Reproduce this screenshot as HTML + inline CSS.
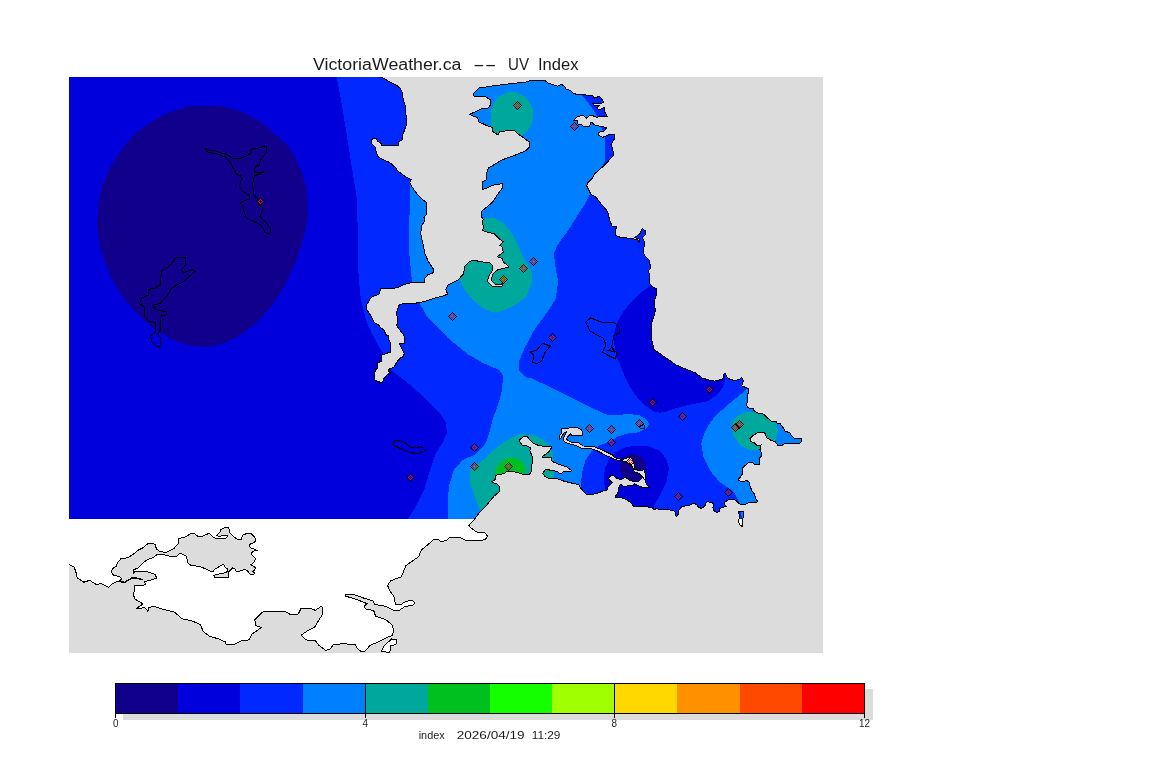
<!DOCTYPE html>
<html><head><meta charset="utf-8"><title>VictoriaWeather.ca -- UV Index</title>
<style>html,body{margin:0;padding:0;background:#fff}svg{display:block}text{font-family:"Liberation Sans",sans-serif}</style></head><body>
<svg width="1152" height="768" viewBox="0 0 1152 768">
<defs><clipPath id="land"><path d="M69.0,77.0 L380.0,77.0 L383.0,78.0 L390.0,82.0 L396.0,85.0 L400.0,88.0 L402.0,92.0 L403.0,98.0 L405.0,105.0 L406.0,115.0 L406.0,126.0 L402.8,135.0 L402.6,139.8 L398.0,142.0 L398.0,145.5 L381.8,145.5 L380.9,143.3 L377.5,141.1 L376.6,138.7 L373.1,138.5 L371.3,139.8 L371.3,143.3 L375.3,147.2 L376.6,153.3 L378.3,157.2 L382.7,159.4 L389.7,162.5 L396.2,168.2 L397.5,170.8 L407.1,177.8 L411.5,179.5 L409.7,182.6 L412.4,187.4 L416.7,193.5 L423.3,200.0 L426.8,202.8 L426.5,214.0 L424.0,217.6 L425.0,220.0 L421.6,226.0 L420.7,234.0 L423.3,245.3 L425.0,254.0 L428.5,261.8 L433.7,269.6 L432.9,273.0 L427.7,274.9 L425.0,278.3 L424.2,282.7 L411.0,282.7 L404.2,284.4 L397.3,287.9 L380.8,288.8 L379.0,294.0 L371.2,297.4 L366.9,304.4 L366.9,309.6 L371.2,316.5 L373.0,320.0 L373.3,320.0 L374.6,323.0 L378.1,324.4 L381.2,328.3 L383.8,329.6 L386.0,334.8 L388.6,335.7 L388.6,338.8 L390.8,343.6 L390.8,351.9 L382.0,354.9 L381.6,361.0 L377.7,362.8 L377.7,367.6 L375.1,370.6 L374.6,379.8 L379.4,382.0 L382.5,382.0 L383.8,378.5 L389.0,372.8 L391.6,372.4 L388.6,371.5 L389.0,369.3 L394.3,366.7 L396.9,361.9 L400.4,358.0 L403.4,356.6 L404.3,353.6 L399.5,344.0 L399.9,343.1 L404.3,343.1 L404.3,336.1 L396.4,325.2 L397.8,323.5 L397.8,320.0 L396.4,313.0 L399.0,305.2 L403.4,303.5 L411.0,304.0 L423.3,301.8 L433.8,298.3 L444.0,295.7 L447.6,294.0 L445.9,289.6 L447.6,285.3 L458.0,280.0 L463.3,274.0 L465.0,266.2 L469.3,261.8 L473.7,260.0 L480.6,261.8 L490.0,262.7 L492.8,266.2 L491.9,271.4 L488.4,276.6 L487.6,281.8 L492.8,286.7 L502.3,286.0 L503.2,283.9 L495.4,284.4 L491.0,280.0 L492.8,274.0 L498.0,269.6 L509.3,267.0 L503.2,261.8 L502.3,258.4 L497.1,256.6 L503.2,252.3 L502.3,247.0 L499.7,245.3 L503.2,241.9 L498.9,238.4 L494.5,234.0 L482.4,230.6 L484.0,227.0 L482.0,222.8 L483.2,219.3 L481.5,216.7 L481.5,211.5 L487.6,206.3 L492.8,202.0 L497.1,195.0 L502.5,188.0 L502.5,183.7 L494.7,184.6 L482.0,190.0 L482.6,182.0 L486.0,180.0 L486.0,174.0 L488.6,168.0 L501.7,160.0 L515.5,155.0 L526.0,150.7 L529.4,147.0 L529.4,142.0 L517.3,133.4 L513.8,130.0 L500.0,131.6 L498.0,135.0 L493.0,131.6 L492.0,127.3 L487.8,126.0 L479.0,122.0 L477.4,117.7 L473.0,116.0 L469.5,114.3 L477.0,111.0 L482.5,108.5 L488.6,108.0 L491.0,104.0 L490.0,99.5 L484.0,96.0 L474.0,96.0 L473.0,94.0 L479.0,88.0 L495.0,85.6 L512.0,83.5 L526.0,82.0 L532.0,80.0 L540.0,80.4 L545.2,80.7 L548.7,83.3 L557.5,86.3 L561.4,84.2 L564.0,85.9 L566.2,89.0 L570.5,90.7 L573.6,93.8 L581.0,94.6 L592.4,95.5 L594.5,98.1 L599.3,96.4 L601.5,98.6 L603.7,102.1 L601.1,103.4 L592.4,103.4 L594.1,105.1 L600.2,105.1 L596.7,107.7 L599.3,109.9 L604.6,107.3 L605.0,112.5 L607.6,116.9 L601.1,116.4 L596.7,117.3 L592.4,115.6 L589.7,115.6 L586.7,118.2 L583.2,115.6 L577.5,116.4 L573.6,120.4 L577.5,120.4 L578.0,124.3 L581.0,124.3 L582.8,126.0 L589.7,126.0 L590.6,122.6 L592.4,122.6 L594.1,124.7 L601.1,126.5 L606.8,127.4 L603.7,131.7 L598.0,132.2 L598.5,135.2 L602.8,137.4 L608.1,134.8 L614.2,134.8 L614.5,138.6 L611.0,144.6 L612.8,149.0 L613.6,155.0 L609.3,160.0 L602.4,167.0 L594.5,174.0 L592.8,177.6 L587.6,183.0 L586.7,186.0 L590.0,192.4 L592.0,195.0 L596.4,197.6 L601.6,204.5 L607.7,211.5 L609.4,219.3 L612.0,226.2 L617.2,227.0 L615.0,229.7 L615.0,235.0 L620.7,237.5 L631.0,238.4 L638.0,239.8 L639.8,242.7 L639.8,239.3 L634.6,237.5 L639.8,234.0 L642.4,228.3 L645.9,231.5 L645.0,235.0 L642.4,237.5 L645.0,243.6 L643.6,248.8 L644.1,254.9 L649.3,260.1 L650.6,268.0 L648.8,270.5 L649.9,283.5 L652.0,286.7 L656.8,288.8 L656.3,295.7 L654.0,300.9 L655.4,310.4 L653.7,317.4 L651.0,324.3 L652.0,331.2 L651.0,338.2 L652.8,343.4 L653.7,349.5 L658.9,353.0 L667.6,359.0 L676.2,365.0 L686.7,369.4 L695.3,372.9 L702.3,378.0 L711.0,380.7 L715.0,381.1 L722.9,379.0 L723.7,374.2 L725.0,373.3 L728.1,378.5 L733.3,380.3 L739.4,379.8 L741.6,377.2 L743.4,381.1 L741.6,385.9 L748.6,388.6 L748.6,392.5 L747.7,393.8 L748.0,401.6 L746.0,404.3 L747.7,407.8 L753.0,408.6 L754.3,411.2 L757.8,413.0 L762.6,413.4 L767.4,417.8 L771.3,421.3 L776.1,421.7 L777.4,423.9 L780.0,423.5 L783.9,428.8 L784.8,430.9 L790.0,433.1 L792.2,436.6 L794.4,438.4 L801.4,438.6 L801.6,441.4 L799.2,443.6 L789.2,443.6 L784.8,443.4 L781.3,445.8 L777.8,445.3 L775.2,441.8 L770.8,440.1 L766.9,437.9 L764.7,432.9 L757.8,432.7 L753.4,435.3 L749.9,438.4 L750.8,441.8 L754.3,442.7 L757.3,445.8 L760.4,445.8 L761.2,444.5 L760.4,447.5 L759.9,450.1 L761.7,452.8 L761.2,456.2 L759.9,457.6 L759.5,464.1 L754.3,464.1 L752.5,462.8 L748.6,462.4 L742.9,467.6 L742.5,473.7 L740.3,477.0 L738.0,479.8 L739.3,480.7 L741.6,481.9 L746.1,480.7 L748.9,481.3 L750.0,485.8 L751.7,490.3 L754.6,494.3 L756.2,499.9 L757.9,501.6 L755.1,502.7 L748.4,502.7 L743.8,505.0 L739.3,503.9 L736.5,501.0 L733.7,499.3 L728.0,499.9 L724.1,502.7 L724.1,504.4 L726.3,506.1 L723.5,507.2 L719.6,508.4 L719.0,511.8 L716.8,512.3 L713.9,510.6 L712.8,507.2 L713.9,504.4 L712.2,502.7 L707.7,501.6 L705.5,503.3 L704.9,506.1 L701.5,508.4 L698.7,507.2 L696.4,504.4 L694.2,503.3 L689.7,505.0 L681.8,506.7 L678.9,510.1 L678.9,513.5 L676.7,516.3 L675.6,515.7 L676.1,512.9 L673.9,510.6 L667.1,509.5 L655.8,508.9 L653.5,509.8 L652.2,507.6 L643.0,506.2 L633.8,506.2 L630.5,502.5 L626.0,499.2 L620.3,497.5 L614.8,497.0 L617.6,493.6 L618.5,490.0 L619.2,485.8 L620.6,484.4 L623.3,486.2 L631.7,485.8 L634.4,484.0 L642.8,487.6 L649.7,488.0 L646.9,485.0 L644.9,479.6 L645.6,477.5 L644.9,472.6 L644.0,469.2 L642.8,470.2 L634.4,469.9 L634.4,465.7 L633.4,460.8 L630.3,457.4 L624.2,458.6 L622.4,459.9 L618.1,458.5 L614.6,457.8 L612.8,455.1 L607.6,452.5 L604.1,450.8 L598.9,448.6 L592.8,446.2 L583.2,446.0 L577.9,442.5 L570.9,442.0 L567.5,440.3 L566.6,439.0 L567.9,436.8 L570.5,433.8 L571.8,435.5 L582.3,435.5 L582.7,432.9 L581.4,429.8 L577.9,427.9 L561.3,428.1 L561.8,432.5 L559.6,435.9 L559.4,439.4 L561.3,437.7 L563.5,433.5 L566.6,431.6 L564.5,436.0 L563.1,438.6 L563.1,440.3 L564.8,442.0 L570.1,444.2 L576.2,445.5 L582.3,448.6 L591.9,449.0 L597.1,450.8 L602.4,453.4 L605.8,455.6 L611.1,457.3 L614.6,459.5 L619.8,460.8 L622.4,460.8 L626.1,462.2 L628.9,463.3 L631.7,465.0 L633.0,467.8 L633.0,469.2 L634.4,472.0 L638.6,473.3 L644.0,478.3 L642.0,477.8 L638.6,481.3 L634.4,481.7 L628.9,479.9 L625.4,477.2 L622.0,479.2 L617.8,478.9 L612.2,474.7 L608.0,478.2 L612.0,482.5 L607.4,488.0 L607.0,490.0 L603.6,490.8 L596.7,493.6 L588.3,495.0 L585.5,493.6 L581.0,488.5 L578.8,484.5 L572.3,483.2 L563.5,481.0 L557.4,478.9 L550.4,478.9 L545.2,476.7 L542.6,473.6 L545.2,469.7 L547.8,469.7 L557.4,471.4 L560.0,474.1 L563.5,471.9 L568.8,471.9 L571.8,470.6 L567.0,467.1 L559.2,464.5 L552.2,461.4 L551.3,457.9 L541.7,457.0 L548.7,451.8 L552.2,447.0 L539.1,445.7 L533.0,443.1 L530.4,440.5 L527.3,436.8 L523.4,436.8 L519.9,439.6 L519.9,442.2 L522.5,445.3 L527.8,446.1 L530.4,447.9 L529.9,450.9 L532.1,456.2 L532.6,462.3 L531.2,466.6 L531.7,471.0 L529.5,474.1 L522.5,474.1 L514.7,471.9 L505.9,471.9 L504.2,473.6 L495.0,475.4 L495.5,479.3 L491.5,481.9 L497.2,484.1 L499.4,486.3 L499.0,492.0 L493.8,496.4 L486.8,505.0 L479.9,512.0 L474.7,519.0 L468.6,525.9 L476.4,532.0 L485.0,532.8 L487.7,536.3 L485.0,539.8 L476.4,540.7 L466.0,540.7 L460.8,538.0 L450.3,537.2 L446.0,540.7 L440.5,541.5 L438.6,539.6 L433.8,539.6 L428.1,544.4 L421.4,550.1 L418.5,556.8 L406.1,565.4 L401.3,576.8 L390.8,580.7 L387.6,585.4 L389.9,591.2 L393.7,595.9 L395.6,604.5 L401.3,604.5 L405.1,601.7 L411.8,600.1 L414.7,602.6 L412.8,605.5 L405.1,606.4 L399.4,610.3 L393.7,610.3 L386.0,606.4 L374.6,604.5 L372.7,600.7 L363.1,597.9 L353.6,594.4 L345.0,594.4 L345.0,595.9 L357.4,599.8 L367.0,603.6 L364.1,606.4 L366.0,609.3 L373.6,610.3 L375.5,616.0 L386.0,619.8 L391.8,624.6 L393.7,629.4 L392.7,635.1 L386.0,638.0 L378.4,641.8 L369.8,645.6 L365.0,651.3 L361.2,651.7 L357.4,648.5 L355.5,644.6 L343.1,643.7 L333.5,644.6 L329.7,649.4 L325.9,650.4 L319.2,645.6 L315.4,640.8 L305.8,639.9 L301.1,635.1 L306.8,631.3 L315.4,626.5 L317.3,622.7 L322.1,615.0 L322.6,607.4 L321.1,606.4 L315.4,610.3 L311.6,608.9 L301.1,608.4 L298.2,614.1 L289.6,614.1 L284.8,611.2 L265.7,611.2 L262.4,612.2 L254.8,619.8 L255.8,625.5 L261.5,627.5 L251.9,634.1 L249.1,639.9 L241.4,640.8 L233.8,644.6 L226.2,644.6 L225.2,641.8 L218.5,638.9 L209.0,636.0 L203.2,631.3 L200.4,624.6 L191.8,620.8 L182.2,618.9 L174.6,612.2 L163.1,609.3 L153.6,606.4 L148.8,607.4 L147.9,611.2 L145.0,607.8 L136.4,608.4 L143.0,604.0 L134.5,598.8 L133.5,594.0 L134.5,590.2 L134.5,585.7 L143.6,585.4 L145.4,584.5 L144.5,581.5 L152.4,579.7 L156.7,578.0 L155.0,574.5 L146.2,571.2 L134.9,571.4 L133.6,573.2 L133.6,569.7 L138.4,568.0 L141.9,564.0 L147.1,559.7 L153.2,557.5 L157.2,554.4 L164.6,554.9 L169.8,556.2 L176.8,556.2 L180.3,553.1 L186.4,556.2 L188.1,563.2 L191.8,565.8 L199.4,566.2 L206.3,569.3 L211.6,571.5 L213.3,571.5 L214.6,569.3 L222.5,564.5 L224.7,565.4 L225.1,567.6 L227.3,568.4 L227.7,571.5 L224.7,572.8 L213.3,575.4 L215.1,577.6 L228.6,577.6 L228.6,571.9 L232.5,568.0 L234.7,568.4 L236.0,571.0 L240.4,571.0 L244.7,569.3 L247.4,570.6 L250.0,574.1 L253.5,574.5 L254.8,572.8 L252.6,571.5 L254.3,570.6 L255.6,567.6 L250.8,564.9 L254.3,561.9 L255.6,558.4 L251.3,554.0 L252.6,551.2 L257.7,550.5 L250.8,547.9 L249.1,546.2 L250.4,543.6 L254.3,542.7 L255.6,540.5 L254.8,537.5 L250.8,533.5 L246.5,533.5 L242.6,535.3 L241.2,539.2 L237.3,539.2 L233.4,536.6 L229.9,533.1 L228.6,527.4 L225.1,527.4 L220.7,529.6 L220.3,531.8 L216.4,535.5 L218.6,536.1 L227.7,535.7 L226.0,538.3 L216.8,538.5 L213.3,537.5 L209.4,533.1 L202.9,536.1 L197.6,536.1 L195.0,534.0 L190.8,533.5 L186.4,536.5 L178.5,538.7 L178.5,543.1 L174.2,548.3 L166.3,552.2 L160.2,551.8 L156.3,548.8 L155.4,544.4 L152.4,543.3 L148.0,543.5 L142.8,547.9 L137.5,550.5 L133.2,554.4 L127.1,557.9 L120.9,558.8 L117.5,562.7 L116.1,566.6 L112.7,568.4 L111.3,571.9 L113.1,574.9 L120.5,577.1 L121.4,579.3 L119.2,581.0 L113.1,583.2 L108.7,587.3 L101.0,583.5 L96.3,584.5 L89.6,580.3 L83.9,582.2 L77.2,577.8 L76.2,573.0 L74.3,567.3 L69.0,564.4 Z M738.2,511.2 L743.3,511.8 L743.6,515.1 L742.7,519.7 L742.1,526.4 L739.3,524.2 L738.2,520.8 L739.9,516.3 Z M381.3,651.7 L384.1,645.6 L391.8,638.9 L396.6,639.9 L396.0,644.6 L390.8,645.6 L389.9,652.3 Z"/></clipPath><clipPath id="data"><rect x="69" y="77" width="754" height="442"/></clipPath>
<g id="mk"><rect x="-4" y="0" width="1" height="1" fill="#000"/><rect x="-3" y="1" width="1" height="1" fill="#000"/><rect x="-3" y="-1" width="1" height="1" fill="#000"/><rect x="-2" y="2" width="1" height="1" fill="#000"/><rect x="-2" y="-2" width="1" height="1" fill="#000"/><rect x="-1" y="3" width="1" height="1" fill="#000"/><rect x="-1" y="-3" width="1" height="1" fill="#000"/><rect x="0" y="4" width="1" height="1" fill="#000"/><rect x="0" y="-4" width="1" height="1" fill="#000"/><rect x="1" y="3" width="1" height="1" fill="#000"/><rect x="1" y="-3" width="1" height="1" fill="#000"/><rect x="2" y="2" width="1" height="1" fill="#000"/><rect x="2" y="-2" width="1" height="1" fill="#000"/><rect x="3" y="1" width="1" height="1" fill="#000"/><rect x="3" y="-1" width="1" height="1" fill="#000"/><rect x="4" y="0" width="1" height="1" fill="#000"/><rect x="-2" y="0" width="1" height="1" fill="#ff0000"/><rect x="-1" y="1" width="1" height="1" fill="#ff0000"/><rect x="-1" y="-1" width="1" height="1" fill="#ff0000"/><rect x="0" y="2" width="1" height="1" fill="#ff0000"/><rect x="0" y="-2" width="1" height="1" fill="#ff0000"/><rect x="1" y="1" width="1" height="1" fill="#ff0000"/><rect x="1" y="-1" width="1" height="1" fill="#ff0000"/><rect x="2" y="0" width="1" height="1" fill="#ff0000"/></g></defs>
<rect x="0" y="0" width="1152" height="768" fill="#fff"/>
<g shape-rendering="crispEdges">
<rect x="69" y="77" width="754" height="576" fill="#dcdcdc"/>
<path d="M69.0,77.0 L380.0,77.0 L383.0,78.0 L390.0,82.0 L396.0,85.0 L400.0,88.0 L402.0,92.0 L403.0,98.0 L405.0,105.0 L406.0,115.0 L406.0,126.0 L402.8,135.0 L402.6,139.8 L398.0,142.0 L398.0,145.5 L381.8,145.5 L380.9,143.3 L377.5,141.1 L376.6,138.7 L373.1,138.5 L371.3,139.8 L371.3,143.3 L375.3,147.2 L376.6,153.3 L378.3,157.2 L382.7,159.4 L389.7,162.5 L396.2,168.2 L397.5,170.8 L407.1,177.8 L411.5,179.5 L409.7,182.6 L412.4,187.4 L416.7,193.5 L423.3,200.0 L426.8,202.8 L426.5,214.0 L424.0,217.6 L425.0,220.0 L421.6,226.0 L420.7,234.0 L423.3,245.3 L425.0,254.0 L428.5,261.8 L433.7,269.6 L432.9,273.0 L427.7,274.9 L425.0,278.3 L424.2,282.7 L411.0,282.7 L404.2,284.4 L397.3,287.9 L380.8,288.8 L379.0,294.0 L371.2,297.4 L366.9,304.4 L366.9,309.6 L371.2,316.5 L373.0,320.0 L373.3,320.0 L374.6,323.0 L378.1,324.4 L381.2,328.3 L383.8,329.6 L386.0,334.8 L388.6,335.7 L388.6,338.8 L390.8,343.6 L390.8,351.9 L382.0,354.9 L381.6,361.0 L377.7,362.8 L377.7,367.6 L375.1,370.6 L374.6,379.8 L379.4,382.0 L382.5,382.0 L383.8,378.5 L389.0,372.8 L391.6,372.4 L388.6,371.5 L389.0,369.3 L394.3,366.7 L396.9,361.9 L400.4,358.0 L403.4,356.6 L404.3,353.6 L399.5,344.0 L399.9,343.1 L404.3,343.1 L404.3,336.1 L396.4,325.2 L397.8,323.5 L397.8,320.0 L396.4,313.0 L399.0,305.2 L403.4,303.5 L411.0,304.0 L423.3,301.8 L433.8,298.3 L444.0,295.7 L447.6,294.0 L445.9,289.6 L447.6,285.3 L458.0,280.0 L463.3,274.0 L465.0,266.2 L469.3,261.8 L473.7,260.0 L480.6,261.8 L490.0,262.7 L492.8,266.2 L491.9,271.4 L488.4,276.6 L487.6,281.8 L492.8,286.7 L502.3,286.0 L503.2,283.9 L495.4,284.4 L491.0,280.0 L492.8,274.0 L498.0,269.6 L509.3,267.0 L503.2,261.8 L502.3,258.4 L497.1,256.6 L503.2,252.3 L502.3,247.0 L499.7,245.3 L503.2,241.9 L498.9,238.4 L494.5,234.0 L482.4,230.6 L484.0,227.0 L482.0,222.8 L483.2,219.3 L481.5,216.7 L481.5,211.5 L487.6,206.3 L492.8,202.0 L497.1,195.0 L502.5,188.0 L502.5,183.7 L494.7,184.6 L482.0,190.0 L482.6,182.0 L486.0,180.0 L486.0,174.0 L488.6,168.0 L501.7,160.0 L515.5,155.0 L526.0,150.7 L529.4,147.0 L529.4,142.0 L517.3,133.4 L513.8,130.0 L500.0,131.6 L498.0,135.0 L493.0,131.6 L492.0,127.3 L487.8,126.0 L479.0,122.0 L477.4,117.7 L473.0,116.0 L469.5,114.3 L477.0,111.0 L482.5,108.5 L488.6,108.0 L491.0,104.0 L490.0,99.5 L484.0,96.0 L474.0,96.0 L473.0,94.0 L479.0,88.0 L495.0,85.6 L512.0,83.5 L526.0,82.0 L532.0,80.0 L540.0,80.4 L545.2,80.7 L548.7,83.3 L557.5,86.3 L561.4,84.2 L564.0,85.9 L566.2,89.0 L570.5,90.7 L573.6,93.8 L581.0,94.6 L592.4,95.5 L594.5,98.1 L599.3,96.4 L601.5,98.6 L603.7,102.1 L601.1,103.4 L592.4,103.4 L594.1,105.1 L600.2,105.1 L596.7,107.7 L599.3,109.9 L604.6,107.3 L605.0,112.5 L607.6,116.9 L601.1,116.4 L596.7,117.3 L592.4,115.6 L589.7,115.6 L586.7,118.2 L583.2,115.6 L577.5,116.4 L573.6,120.4 L577.5,120.4 L578.0,124.3 L581.0,124.3 L582.8,126.0 L589.7,126.0 L590.6,122.6 L592.4,122.6 L594.1,124.7 L601.1,126.5 L606.8,127.4 L603.7,131.7 L598.0,132.2 L598.5,135.2 L602.8,137.4 L608.1,134.8 L614.2,134.8 L614.5,138.6 L611.0,144.6 L612.8,149.0 L613.6,155.0 L609.3,160.0 L602.4,167.0 L594.5,174.0 L592.8,177.6 L587.6,183.0 L586.7,186.0 L590.0,192.4 L592.0,195.0 L596.4,197.6 L601.6,204.5 L607.7,211.5 L609.4,219.3 L612.0,226.2 L617.2,227.0 L615.0,229.7 L615.0,235.0 L620.7,237.5 L631.0,238.4 L638.0,239.8 L639.8,242.7 L639.8,239.3 L634.6,237.5 L639.8,234.0 L642.4,228.3 L645.9,231.5 L645.0,235.0 L642.4,237.5 L645.0,243.6 L643.6,248.8 L644.1,254.9 L649.3,260.1 L650.6,268.0 L648.8,270.5 L649.9,283.5 L652.0,286.7 L656.8,288.8 L656.3,295.7 L654.0,300.9 L655.4,310.4 L653.7,317.4 L651.0,324.3 L652.0,331.2 L651.0,338.2 L652.8,343.4 L653.7,349.5 L658.9,353.0 L667.6,359.0 L676.2,365.0 L686.7,369.4 L695.3,372.9 L702.3,378.0 L711.0,380.7 L715.0,381.1 L722.9,379.0 L723.7,374.2 L725.0,373.3 L728.1,378.5 L733.3,380.3 L739.4,379.8 L741.6,377.2 L743.4,381.1 L741.6,385.9 L748.6,388.6 L748.6,392.5 L747.7,393.8 L748.0,401.6 L746.0,404.3 L747.7,407.8 L753.0,408.6 L754.3,411.2 L757.8,413.0 L762.6,413.4 L767.4,417.8 L771.3,421.3 L776.1,421.7 L777.4,423.9 L780.0,423.5 L783.9,428.8 L784.8,430.9 L790.0,433.1 L792.2,436.6 L794.4,438.4 L801.4,438.6 L801.6,441.4 L799.2,443.6 L789.2,443.6 L784.8,443.4 L781.3,445.8 L777.8,445.3 L775.2,441.8 L770.8,440.1 L766.9,437.9 L764.7,432.9 L757.8,432.7 L753.4,435.3 L749.9,438.4 L750.8,441.8 L754.3,442.7 L757.3,445.8 L760.4,445.8 L761.2,444.5 L760.4,447.5 L759.9,450.1 L761.7,452.8 L761.2,456.2 L759.9,457.6 L759.5,464.1 L754.3,464.1 L752.5,462.8 L748.6,462.4 L742.9,467.6 L742.5,473.7 L740.3,477.0 L738.0,479.8 L739.3,480.7 L741.6,481.9 L746.1,480.7 L748.9,481.3 L750.0,485.8 L751.7,490.3 L754.6,494.3 L756.2,499.9 L757.9,501.6 L755.1,502.7 L748.4,502.7 L743.8,505.0 L739.3,503.9 L736.5,501.0 L733.7,499.3 L728.0,499.9 L724.1,502.7 L724.1,504.4 L726.3,506.1 L723.5,507.2 L719.6,508.4 L719.0,511.8 L716.8,512.3 L713.9,510.6 L712.8,507.2 L713.9,504.4 L712.2,502.7 L707.7,501.6 L705.5,503.3 L704.9,506.1 L701.5,508.4 L698.7,507.2 L696.4,504.4 L694.2,503.3 L689.7,505.0 L681.8,506.7 L678.9,510.1 L678.9,513.5 L676.7,516.3 L675.6,515.7 L676.1,512.9 L673.9,510.6 L667.1,509.5 L655.8,508.9 L653.5,509.8 L652.2,507.6 L643.0,506.2 L633.8,506.2 L630.5,502.5 L626.0,499.2 L620.3,497.5 L614.8,497.0 L617.6,493.6 L618.5,490.0 L619.2,485.8 L620.6,484.4 L623.3,486.2 L631.7,485.8 L634.4,484.0 L642.8,487.6 L649.7,488.0 L646.9,485.0 L644.9,479.6 L645.6,477.5 L644.9,472.6 L644.0,469.2 L642.8,470.2 L634.4,469.9 L634.4,465.7 L633.4,460.8 L630.3,457.4 L624.2,458.6 L622.4,459.9 L618.1,458.5 L614.6,457.8 L612.8,455.1 L607.6,452.5 L604.1,450.8 L598.9,448.6 L592.8,446.2 L583.2,446.0 L577.9,442.5 L570.9,442.0 L567.5,440.3 L566.6,439.0 L567.9,436.8 L570.5,433.8 L571.8,435.5 L582.3,435.5 L582.7,432.9 L581.4,429.8 L577.9,427.9 L561.3,428.1 L561.8,432.5 L559.6,435.9 L559.4,439.4 L561.3,437.7 L563.5,433.5 L566.6,431.6 L564.5,436.0 L563.1,438.6 L563.1,440.3 L564.8,442.0 L570.1,444.2 L576.2,445.5 L582.3,448.6 L591.9,449.0 L597.1,450.8 L602.4,453.4 L605.8,455.6 L611.1,457.3 L614.6,459.5 L619.8,460.8 L622.4,460.8 L626.1,462.2 L628.9,463.3 L631.7,465.0 L633.0,467.8 L633.0,469.2 L634.4,472.0 L638.6,473.3 L644.0,478.3 L642.0,477.8 L638.6,481.3 L634.4,481.7 L628.9,479.9 L625.4,477.2 L622.0,479.2 L617.8,478.9 L612.2,474.7 L608.0,478.2 L612.0,482.5 L607.4,488.0 L607.0,490.0 L603.6,490.8 L596.7,493.6 L588.3,495.0 L585.5,493.6 L581.0,488.5 L578.8,484.5 L572.3,483.2 L563.5,481.0 L557.4,478.9 L550.4,478.9 L545.2,476.7 L542.6,473.6 L545.2,469.7 L547.8,469.7 L557.4,471.4 L560.0,474.1 L563.5,471.9 L568.8,471.9 L571.8,470.6 L567.0,467.1 L559.2,464.5 L552.2,461.4 L551.3,457.9 L541.7,457.0 L548.7,451.8 L552.2,447.0 L539.1,445.7 L533.0,443.1 L530.4,440.5 L527.3,436.8 L523.4,436.8 L519.9,439.6 L519.9,442.2 L522.5,445.3 L527.8,446.1 L530.4,447.9 L529.9,450.9 L532.1,456.2 L532.6,462.3 L531.2,466.6 L531.7,471.0 L529.5,474.1 L522.5,474.1 L514.7,471.9 L505.9,471.9 L504.2,473.6 L495.0,475.4 L495.5,479.3 L491.5,481.9 L497.2,484.1 L499.4,486.3 L499.0,492.0 L493.8,496.4 L486.8,505.0 L479.9,512.0 L474.7,519.0 L468.6,525.9 L476.4,532.0 L485.0,532.8 L487.7,536.3 L485.0,539.8 L476.4,540.7 L466.0,540.7 L460.8,538.0 L450.3,537.2 L446.0,540.7 L440.5,541.5 L438.6,539.6 L433.8,539.6 L428.1,544.4 L421.4,550.1 L418.5,556.8 L406.1,565.4 L401.3,576.8 L390.8,580.7 L387.6,585.4 L389.9,591.2 L393.7,595.9 L395.6,604.5 L401.3,604.5 L405.1,601.7 L411.8,600.1 L414.7,602.6 L412.8,605.5 L405.1,606.4 L399.4,610.3 L393.7,610.3 L386.0,606.4 L374.6,604.5 L372.7,600.7 L363.1,597.9 L353.6,594.4 L345.0,594.4 L345.0,595.9 L357.4,599.8 L367.0,603.6 L364.1,606.4 L366.0,609.3 L373.6,610.3 L375.5,616.0 L386.0,619.8 L391.8,624.6 L393.7,629.4 L392.7,635.1 L386.0,638.0 L378.4,641.8 L369.8,645.6 L365.0,651.3 L361.2,651.7 L357.4,648.5 L355.5,644.6 L343.1,643.7 L333.5,644.6 L329.7,649.4 L325.9,650.4 L319.2,645.6 L315.4,640.8 L305.8,639.9 L301.1,635.1 L306.8,631.3 L315.4,626.5 L317.3,622.7 L322.1,615.0 L322.6,607.4 L321.1,606.4 L315.4,610.3 L311.6,608.9 L301.1,608.4 L298.2,614.1 L289.6,614.1 L284.8,611.2 L265.7,611.2 L262.4,612.2 L254.8,619.8 L255.8,625.5 L261.5,627.5 L251.9,634.1 L249.1,639.9 L241.4,640.8 L233.8,644.6 L226.2,644.6 L225.2,641.8 L218.5,638.9 L209.0,636.0 L203.2,631.3 L200.4,624.6 L191.8,620.8 L182.2,618.9 L174.6,612.2 L163.1,609.3 L153.6,606.4 L148.8,607.4 L147.9,611.2 L145.0,607.8 L136.4,608.4 L143.0,604.0 L134.5,598.8 L133.5,594.0 L134.5,590.2 L134.5,585.7 L143.6,585.4 L145.4,584.5 L144.5,581.5 L152.4,579.7 L156.7,578.0 L155.0,574.5 L146.2,571.2 L134.9,571.4 L133.6,573.2 L133.6,569.7 L138.4,568.0 L141.9,564.0 L147.1,559.7 L153.2,557.5 L157.2,554.4 L164.6,554.9 L169.8,556.2 L176.8,556.2 L180.3,553.1 L186.4,556.2 L188.1,563.2 L191.8,565.8 L199.4,566.2 L206.3,569.3 L211.6,571.5 L213.3,571.5 L214.6,569.3 L222.5,564.5 L224.7,565.4 L225.1,567.6 L227.3,568.4 L227.7,571.5 L224.7,572.8 L213.3,575.4 L215.1,577.6 L228.6,577.6 L228.6,571.9 L232.5,568.0 L234.7,568.4 L236.0,571.0 L240.4,571.0 L244.7,569.3 L247.4,570.6 L250.0,574.1 L253.5,574.5 L254.8,572.8 L252.6,571.5 L254.3,570.6 L255.6,567.6 L250.8,564.9 L254.3,561.9 L255.6,558.4 L251.3,554.0 L252.6,551.2 L257.7,550.5 L250.8,547.9 L249.1,546.2 L250.4,543.6 L254.3,542.7 L255.6,540.5 L254.8,537.5 L250.8,533.5 L246.5,533.5 L242.6,535.3 L241.2,539.2 L237.3,539.2 L233.4,536.6 L229.9,533.1 L228.6,527.4 L225.1,527.4 L220.7,529.6 L220.3,531.8 L216.4,535.5 L218.6,536.1 L227.7,535.7 L226.0,538.3 L216.8,538.5 L213.3,537.5 L209.4,533.1 L202.9,536.1 L197.6,536.1 L195.0,534.0 L190.8,533.5 L186.4,536.5 L178.5,538.7 L178.5,543.1 L174.2,548.3 L166.3,552.2 L160.2,551.8 L156.3,548.8 L155.4,544.4 L152.4,543.3 L148.0,543.5 L142.8,547.9 L137.5,550.5 L133.2,554.4 L127.1,557.9 L120.9,558.8 L117.5,562.7 L116.1,566.6 L112.7,568.4 L111.3,571.9 L113.1,574.9 L120.5,577.1 L121.4,579.3 L119.2,581.0 L113.1,583.2 L108.7,587.3 L101.0,583.5 L96.3,584.5 L89.6,580.3 L83.9,582.2 L77.2,577.8 L76.2,573.0 L74.3,567.3 L69.0,564.4 Z M738.2,511.2 L743.3,511.8 L743.6,515.1 L742.7,519.7 L742.1,526.4 L739.3,524.2 L738.2,520.8 L739.9,516.3 Z M381.3,651.7 L384.1,645.6 L391.8,638.9 L396.6,639.9 L396.0,644.6 L390.8,645.6 L389.9,652.3 Z" fill="#fff"/>
<g clip-path="url(#land)"><g clip-path="url(#data)">
<rect x="69" y="77" width="754" height="442" fill="#0000dc"/>
<path d="M190.0,106.0 L221.5,106.0 L242.0,111.7 L260.0,121.2 L270.5,130.0 L287.0,144.6 L296.6,159.2 L302.7,175.0 L307.0,190.8 L307.6,207.8 L308.0,215.0 L304.4,234.8 L296.7,259.7 L285.3,284.5 L271.9,305.5 L256.6,322.7 L239.4,336.0 L224.1,343.7 L207.0,347.1 L189.8,345.6 L172.6,339.9 L155.4,330.3 L138.2,315.0 L124.8,299.8 L111.5,278.8 L100.0,248.2 L97.0,225.0 L98.2,203.0 L102.5,184.6 L110.3,167.2 L122.5,148.0 L136.4,132.5 L153.8,120.3 L171.0,111.7 Z" fill="#10008c"/>
<path d="M336.5,77.0 L341.0,100.0 L346.0,130.0 L351.5,165.0 L357.0,200.0 L357.8,235.0 L357.6,264.0 L360.8,299.0 L366.0,320.0 L371.2,332.0 L380.0,348.6 L383.0,354.0 L391.2,370.3 L409.4,384.2 L426.8,399.9 L439.0,412.0 L445.9,422.4 L446.8,432.8 L443.0,442.0 L436.0,453.0 L429.5,472.0 L424.3,489.4 L415.6,506.8 L407.8,519.0 L830.0,519.0 L830.0,77.0 Z" fill="#0028ff"/>
<path d="M410.2,181.0 L410.0,195.0 L409.6,212.0 L408.6,247.0 L411.2,273.0 L412.0,283.0 L440.0,283.0 L440.0,183.0 Z" fill="#0080ff"/>
<path d="M460.0,75.0 L460.0,270.0 L419.9,295.0 L419.9,303.5 L426.8,316.5 L431.0,320.0 L438.8,328.7 L447.5,337.5 L455.0,343.8 L468.5,354.5 L484.0,363.4 L499.7,370.3 L502.8,375.5 L502.3,389.4 L498.0,405.0 L492.8,419.0 L489.3,432.8 L485.8,443.0 L483.3,446.0 L474.7,454.7 L462.5,460.0 L453.8,470.3 L449.5,484.2 L447.7,498.0 L447.7,519.0 L580.6,519.0 L580.6,486.0 L581.3,479.7 L582.7,470.0 L585.5,460.2 L591.0,451.8 L599.4,445.5 L609.2,442.0 L617.6,436.5 L626.0,433.7 L638.5,432.3 L646.8,428.0 L649.3,424.0 L646.7,419.8 L639.8,415.5 L627.6,413.7 L617.0,415.5 L606.8,414.6 L596.4,410.0 L580.8,402.4 L563.4,393.8 L546.0,385.0 L530.4,378.0 L525.8,377.3 L518.8,370.3 L518.8,361.7 L524.0,349.5 L531.0,335.6 L535.6,328.0 L547.8,311.3 L555.6,299.2 L558.2,281.8 L555.6,268.0 L553.9,254.0 L557.3,245.3 L568.6,229.7 L577.3,215.8 L584.2,205.4 L589.4,195.0 L591.0,192.0 L630.0,192.0 L630.0,75.0 Z" fill="#0080ff"/>
<path d="M746.4,389.4 L741.2,393.8 L732.5,400.8 L723.7,408.6 L715.0,416.0 L709.0,424.5 L704.3,433.0 L701.3,443.3 L703.4,457.2 L710.3,471.0 L719.0,481.5 L729.4,488.5 L734.6,493.0 L739.8,503.3 L742.0,520.0 L815.0,520.0 L815.0,380.0 L750.0,384.0 Z" fill="#0080ff"/>
<path d="M580.5,93.0 L586.2,100.3 L591.5,107.3 L596.7,115.1 L598.0,118.0 L612.0,120.0 L612.0,90.0 Z" fill="#0028ff"/>
<path d="M600.5,125.5 L603.0,131.0 L610.0,131.0 L610.0,125.0 Z" fill="#0028ff"/>
<path d="M605.0,136.0 L605.0,160.3 L602.4,167.2 L622.0,167.0 L622.0,132.0 Z" fill="#0028ff"/>
<ellipse cx="512.0" cy="115.0" rx="21.3" ry="23.0" fill="#00a89c"/>
<path d="M490.8,117.0 L491.2,126.0 L493.0,134.0 L500.0,137.0 L506.0,130.0 L500.0,117.0 Z" fill="#00a89c"/>
<path d="M483.2,219.3 L487.0,217.5 L492.8,217.6 L503.2,222.8 L511.9,233.2 L518.8,247.0 L524.0,259.2 L531.0,269.6 L532.2,275.0 L531.8,281.8 L527.0,295.7 L520.0,301.8 L513.6,306.0 L501.5,311.3 L492.8,312.2 L482.4,307.8 L472.0,299.0 L465.0,290.5 L460.7,281.8 L459.8,279.2 L455.0,270.0 L470.0,250.0 L475.0,220.0 Z" fill="#00a89c"/>
<path d="M479.9,510.3 L474.7,496.4 L470.3,484.2 L470.3,469.5 L476.0,465.0 L481.0,461.5 L485.0,458.8 L493.7,450.1 L502.5,443.1 L511.2,437.9 L521.6,434.4 L533.9,434.8 L541.7,438.7 L547.8,444.8 L552.2,451.8 L553.9,460.5 L553.9,478.9 L554.0,520.0 L480.0,520.0 Z" fill="#00a89c"/>
<path d="M732.3,424.0 L733.3,420.8 L736.8,416.5 L743.8,412.6 L749.9,412.1 L756.0,412.3 L760.0,408.0 L775.0,417.0 L775.2,422.2 L777.0,425.7 L777.7,430.1 L777.0,435.3 L775.2,440.5 L774.5,444.0 L768.0,442.0 L763.0,438.0 L762.0,447.0 L759.9,448.4 L756.9,449.7 L751.6,450.6 L746.4,448.8 L741.2,445.8 L736.8,440.5 L733.3,435.3 L732.3,429.5 Z" fill="#00a89c"/>
<path d="M495.5,471.9 L497.2,466.6 L502.5,460.5 L509.4,457.9 L516.4,458.4 L521.6,461.4 L524.7,466.6 L525.0,472.8 L525.0,482.0 L495.0,482.0 Z" fill="#00c020"/>
<path d="M499.8,278.6 L503.5,274.8 L507.2,278.6 L503.5,281.8 Z" fill="#00c020"/>
<path d="M650.0,286.0 L641.5,292.2 L631.0,302.6 L624.0,310.4 L617.0,322.6 L614.6,331.2 L613.8,341.7 L617.0,357.3 L621.0,367.0 L625.5,378.0 L630.0,387.0 L634.7,394.0 L640.2,401.0 L647.2,407.3 L654.2,411.6 L660.0,412.6 L665.2,412.0 L673.8,408.9 L684.7,405.8 L696.4,403.4 L708.1,401.1 L715.9,395.6 L720.0,391.7 L722.5,387.8 L725.0,380.8 L725.0,370.0 L680.0,355.0 L662.0,340.0 L662.0,286.0 Z" fill="#0000dc"/>
<path d="M637.0,445.5 L626.0,447.0 L616.2,451.8 L609.2,458.8 L605.0,468.5 L603.6,478.3 L605.0,488.0 L607.0,492.2 L607.0,515.0 L653.0,515.0 L653.8,506.2 L660.8,493.6 L666.3,482.5 L669.0,468.5 L666.3,458.8 L659.4,450.4 L648.2,446.2 Z" fill="#0000dc"/>
<ellipse cx="633.0" cy="467.5" rx="13.2" ry="13.3" fill="#10008c"/>
</g></g>
<path d="M380.0,77.0 L383.0,78.0 L390.0,82.0 L396.0,85.0 L400.0,88.0 L402.0,92.0 L403.0,98.0 L405.0,105.0 L406.0,115.0 L406.0,126.0 L402.8,135.0 L402.6,139.8 L398.0,142.0 L398.0,145.5 L381.8,145.5 L380.9,143.3 L377.5,141.1 L376.6,138.7 L373.1,138.5 L371.3,139.8 L371.3,143.3 L375.3,147.2 L376.6,153.3 L378.3,157.2 L382.7,159.4 L389.7,162.5 L396.2,168.2 L397.5,170.8 L407.1,177.8 L411.5,179.5 L409.7,182.6 L412.4,187.4 L416.7,193.5 L423.3,200.0 L426.8,202.8 L426.5,214.0 L424.0,217.6 L425.0,220.0 L421.6,226.0 L420.7,234.0 L423.3,245.3 L425.0,254.0 L428.5,261.8 L433.7,269.6 L432.9,273.0 L427.7,274.9 L425.0,278.3 L424.2,282.7 L411.0,282.7 L404.2,284.4 L397.3,287.9 L380.8,288.8 L379.0,294.0 L371.2,297.4 L366.9,304.4 L366.9,309.6 L371.2,316.5 L373.0,320.0 L373.3,320.0 L374.6,323.0 L378.1,324.4 L381.2,328.3 L383.8,329.6 L386.0,334.8 L388.6,335.7 L388.6,338.8 L390.8,343.6 L390.8,351.9 L382.0,354.9 L381.6,361.0 L377.7,362.8 L377.7,367.6 L375.1,370.6 L374.6,379.8 L379.4,382.0 L382.5,382.0 L383.8,378.5 L389.0,372.8 L391.6,372.4 L388.6,371.5 L389.0,369.3 L394.3,366.7 L396.9,361.9 L400.4,358.0 L403.4,356.6 L404.3,353.6 L399.5,344.0 L399.9,343.1 L404.3,343.1 L404.3,336.1 L396.4,325.2 L397.8,323.5 L397.8,320.0 L396.4,313.0 L399.0,305.2 L403.4,303.5 L411.0,304.0 L423.3,301.8 L433.8,298.3 L444.0,295.7 L447.6,294.0 L445.9,289.6 L447.6,285.3 L458.0,280.0 L463.3,274.0 L465.0,266.2 L469.3,261.8 L473.7,260.0 L480.6,261.8 L490.0,262.7 L492.8,266.2 L491.9,271.4 L488.4,276.6 L487.6,281.8 L492.8,286.7 L502.3,286.0 L503.2,283.9 L495.4,284.4 L491.0,280.0 L492.8,274.0 L498.0,269.6 L509.3,267.0 L503.2,261.8 L502.3,258.4 L497.1,256.6 L503.2,252.3 L502.3,247.0 L499.7,245.3 L503.2,241.9 L498.9,238.4 L494.5,234.0 L482.4,230.6 L484.0,227.0 L482.0,222.8 L483.2,219.3 L481.5,216.7 L481.5,211.5 L487.6,206.3 L492.8,202.0 L497.1,195.0 L502.5,188.0 L502.5,183.7 L494.7,184.6 L482.0,190.0 L482.6,182.0 L486.0,180.0 L486.0,174.0 L488.6,168.0 L501.7,160.0 L515.5,155.0 L526.0,150.7 L529.4,147.0 L529.4,142.0 L517.3,133.4 L513.8,130.0 L500.0,131.6 L498.0,135.0 L493.0,131.6 L492.0,127.3 L487.8,126.0 L479.0,122.0 L477.4,117.7 L473.0,116.0 L469.5,114.3 L477.0,111.0 L482.5,108.5 L488.6,108.0 L491.0,104.0 L490.0,99.5 L484.0,96.0 L474.0,96.0 L473.0,94.0 L479.0,88.0 L495.0,85.6 L512.0,83.5 L526.0,82.0 L532.0,80.0 L540.0,80.4 L545.2,80.7 L548.7,83.3 L557.5,86.3 L561.4,84.2 L564.0,85.9 L566.2,89.0 L570.5,90.7 L573.6,93.8 L581.0,94.6 L592.4,95.5 L594.5,98.1 L599.3,96.4 L601.5,98.6 L603.7,102.1 L601.1,103.4 L592.4,103.4 L594.1,105.1 L600.2,105.1 L596.7,107.7 L599.3,109.9 L604.6,107.3 L605.0,112.5 L607.6,116.9 L601.1,116.4 L596.7,117.3 L592.4,115.6 L589.7,115.6 L586.7,118.2 L583.2,115.6 L577.5,116.4 L573.6,120.4 L577.5,120.4 L578.0,124.3 L581.0,124.3 L582.8,126.0 L589.7,126.0 L590.6,122.6 L592.4,122.6 L594.1,124.7 L601.1,126.5 L606.8,127.4 L603.7,131.7 L598.0,132.2 L598.5,135.2 L602.8,137.4 L608.1,134.8 L614.2,134.8 L614.5,138.6 L611.0,144.6 L612.8,149.0 L613.6,155.0 L609.3,160.0 L602.4,167.0 L594.5,174.0 L592.8,177.6 L587.6,183.0 L586.7,186.0 L590.0,192.4 L592.0,195.0 L596.4,197.6 L601.6,204.5 L607.7,211.5 L609.4,219.3 L612.0,226.2 L617.2,227.0 L615.0,229.7 L615.0,235.0 L620.7,237.5 L631.0,238.4 L638.0,239.8 L639.8,242.7 L639.8,239.3 L634.6,237.5 L639.8,234.0 L642.4,228.3 L645.9,231.5 L645.0,235.0 L642.4,237.5 L645.0,243.6 L643.6,248.8 L644.1,254.9 L649.3,260.1 L650.6,268.0 L648.8,270.5 L649.9,283.5 L652.0,286.7 L656.8,288.8 L656.3,295.7 L654.0,300.9 L655.4,310.4 L653.7,317.4 L651.0,324.3 L652.0,331.2 L651.0,338.2 L652.8,343.4 L653.7,349.5 L658.9,353.0 L667.6,359.0 L676.2,365.0 L686.7,369.4 L695.3,372.9 L702.3,378.0 L711.0,380.7 L715.0,381.1 L722.9,379.0 L723.7,374.2 L725.0,373.3 L728.1,378.5 L733.3,380.3 L739.4,379.8 L741.6,377.2 L743.4,381.1 L741.6,385.9 L748.6,388.6 L748.6,392.5 L747.7,393.8 L748.0,401.6 L746.0,404.3 L747.7,407.8 L753.0,408.6 L754.3,411.2 L757.8,413.0 L762.6,413.4 L767.4,417.8 L771.3,421.3 L776.1,421.7 L777.4,423.9 L780.0,423.5 L783.9,428.8 L784.8,430.9 L790.0,433.1 L792.2,436.6 L794.4,438.4 L801.4,438.6 L801.6,441.4 L799.2,443.6 L789.2,443.6 L784.8,443.4 L781.3,445.8 L777.8,445.3 L775.2,441.8 L770.8,440.1 L766.9,437.9 L764.7,432.9 L757.8,432.7 L753.4,435.3 L749.9,438.4 L750.8,441.8 L754.3,442.7 L757.3,445.8 L760.4,445.8 L761.2,444.5 L760.4,447.5 L759.9,450.1 L761.7,452.8 L761.2,456.2 L759.9,457.6 L759.5,464.1 L754.3,464.1 L752.5,462.8 L748.6,462.4 L742.9,467.6 L742.5,473.7 L740.3,477.0 L738.0,479.8 L739.3,480.7 L741.6,481.9 L746.1,480.7 L748.9,481.3 L750.0,485.8 L751.7,490.3 L754.6,494.3 L756.2,499.9 L757.9,501.6 L755.1,502.7 L748.4,502.7 L743.8,505.0 L739.3,503.9 L736.5,501.0 L733.7,499.3 L728.0,499.9 L724.1,502.7 L724.1,504.4 L726.3,506.1 L723.5,507.2 L719.6,508.4 L719.0,511.8 L716.8,512.3 L713.9,510.6 L712.8,507.2 L713.9,504.4 L712.2,502.7 L707.7,501.6 L705.5,503.3 L704.9,506.1 L701.5,508.4 L698.7,507.2 L696.4,504.4 L694.2,503.3 L689.7,505.0 L681.8,506.7 L678.9,510.1 L678.9,513.5 L676.7,516.3 L675.6,515.7 L676.1,512.9 L673.9,510.6 L667.1,509.5 L655.8,508.9 L653.5,509.8 L652.2,507.6 L643.0,506.2 L633.8,506.2 L630.5,502.5 L626.0,499.2 L620.3,497.5 L614.8,497.0 L617.6,493.6 L618.5,490.0 L619.2,485.8 L620.6,484.4 L623.3,486.2 L631.7,485.8 L634.4,484.0 L642.8,487.6 L649.7,488.0 L646.9,485.0 L644.9,479.6 L645.6,477.5 L644.9,472.6 L644.0,469.2 L642.8,470.2 L634.4,469.9 L634.4,465.7 L633.4,460.8 L630.3,457.4 L624.2,458.6 L622.4,459.9 L618.1,458.5 L614.6,457.8 L612.8,455.1 L607.6,452.5 L604.1,450.8 L598.9,448.6 L592.8,446.2 L583.2,446.0 L577.9,442.5 L570.9,442.0 L567.5,440.3 L566.6,439.0 L567.9,436.8 L570.5,433.8 L571.8,435.5 L582.3,435.5 L582.7,432.9 L581.4,429.8 L577.9,427.9 L561.3,428.1 L561.8,432.5 L559.6,435.9 L559.4,439.4 L561.3,437.7 L563.5,433.5 L566.6,431.6 L564.5,436.0 L563.1,438.6 L563.1,440.3 L564.8,442.0 L570.1,444.2 L576.2,445.5 L582.3,448.6 L591.9,449.0 L597.1,450.8 L602.4,453.4 L605.8,455.6 L611.1,457.3 L614.6,459.5 L619.8,460.8 L622.4,460.8 L626.1,462.2 L628.9,463.3 L631.7,465.0 L633.0,467.8 L633.0,469.2 L634.4,472.0 L638.6,473.3 L644.0,478.3 L642.0,477.8 L638.6,481.3 L634.4,481.7 L628.9,479.9 L625.4,477.2 L622.0,479.2 L617.8,478.9 L612.2,474.7 L608.0,478.2 L612.0,482.5 L607.4,488.0 L607.0,490.0 L603.6,490.8 L596.7,493.6 L588.3,495.0 L585.5,493.6 L581.0,488.5 L578.8,484.5 L572.3,483.2 L563.5,481.0 L557.4,478.9 L550.4,478.9 L545.2,476.7 L542.6,473.6 L545.2,469.7 L547.8,469.7 L557.4,471.4 L560.0,474.1 L563.5,471.9 L568.8,471.9 L571.8,470.6 L567.0,467.1 L559.2,464.5 L552.2,461.4 L551.3,457.9 L541.7,457.0 L548.7,451.8 L552.2,447.0 L539.1,445.7 L533.0,443.1 L530.4,440.5 L527.3,436.8 L523.4,436.8 L519.9,439.6 L519.9,442.2 L522.5,445.3 L527.8,446.1 L530.4,447.9 L529.9,450.9 L532.1,456.2 L532.6,462.3 L531.2,466.6 L531.7,471.0 L529.5,474.1 L522.5,474.1 L514.7,471.9 L505.9,471.9 L504.2,473.6 L495.0,475.4 L495.5,479.3 L491.5,481.9 L497.2,484.1 L499.4,486.3 L499.0,492.0 L493.8,496.4 L486.8,505.0 L479.9,512.0 L474.7,519.0 L468.6,525.9 L476.4,532.0 L485.0,532.8 L487.7,536.3 L485.0,539.8 L476.4,540.7 L466.0,540.7 L460.8,538.0 L450.3,537.2 L446.0,540.7 L440.5,541.5 L438.6,539.6 L433.8,539.6 L428.1,544.4 L421.4,550.1 L418.5,556.8 L406.1,565.4 L401.3,576.8 L390.8,580.7 L387.6,585.4 L389.9,591.2 L393.7,595.9 L395.6,604.5 L401.3,604.5 L405.1,601.7 L411.8,600.1 L414.7,602.6 L412.8,605.5 L405.1,606.4 L399.4,610.3 L393.7,610.3 L386.0,606.4 L374.6,604.5 L372.7,600.7 L363.1,597.9 L353.6,594.4 L345.0,594.4 L345.0,595.9 L357.4,599.8 L367.0,603.6 L364.1,606.4 L366.0,609.3 L373.6,610.3 L375.5,616.0 L386.0,619.8 L391.8,624.6 L393.7,629.4 L392.7,635.1 L386.0,638.0 L378.4,641.8 L369.8,645.6 L365.0,651.3 L361.2,651.7 L357.4,648.5 L355.5,644.6 L343.1,643.7 L333.5,644.6 L329.7,649.4 L325.9,650.4 L319.2,645.6 L315.4,640.8 L305.8,639.9 L301.1,635.1 L306.8,631.3 L315.4,626.5 L317.3,622.7 L322.1,615.0 L322.6,607.4 L321.1,606.4 L315.4,610.3 L311.6,608.9 L301.1,608.4 L298.2,614.1 L289.6,614.1 L284.8,611.2 L265.7,611.2 L262.4,612.2 L254.8,619.8 L255.8,625.5 L261.5,627.5 L251.9,634.1 L249.1,639.9 L241.4,640.8 L233.8,644.6 L226.2,644.6 L225.2,641.8 L218.5,638.9 L209.0,636.0 L203.2,631.3 L200.4,624.6 L191.8,620.8 L182.2,618.9 L174.6,612.2 L163.1,609.3 L153.6,606.4 L148.8,607.4 L147.9,611.2 L145.0,607.8 L136.4,608.4 L143.0,604.0 L134.5,598.8 L133.5,594.0 L134.5,590.2 L134.5,585.7 L143.6,585.4 L145.4,584.5 L144.5,581.5 L152.4,579.7 L156.7,578.0 L155.0,574.5 L146.2,571.2 L134.9,571.4 L133.6,573.2 L133.6,569.7 L138.4,568.0 L141.9,564.0 L147.1,559.7 L153.2,557.5 L157.2,554.4 L164.6,554.9 L169.8,556.2 L176.8,556.2 L180.3,553.1 L186.4,556.2 L188.1,563.2 L191.8,565.8 L199.4,566.2 L206.3,569.3 L211.6,571.5 L213.3,571.5 L214.6,569.3 L222.5,564.5 L224.7,565.4 L225.1,567.6 L227.3,568.4 L227.7,571.5 L224.7,572.8 L213.3,575.4 L215.1,577.6 L228.6,577.6 L228.6,571.9 L232.5,568.0 L234.7,568.4 L236.0,571.0 L240.4,571.0 L244.7,569.3 L247.4,570.6 L250.0,574.1 L253.5,574.5 L254.8,572.8 L252.6,571.5 L254.3,570.6 L255.6,567.6 L250.8,564.9 L254.3,561.9 L255.6,558.4 L251.3,554.0 L252.6,551.2 L257.7,550.5 L250.8,547.9 L249.1,546.2 L250.4,543.6 L254.3,542.7 L255.6,540.5 L254.8,537.5 L250.8,533.5 L246.5,533.5 L242.6,535.3 L241.2,539.2 L237.3,539.2 L233.4,536.6 L229.9,533.1 L228.6,527.4 L225.1,527.4 L220.7,529.6 L220.3,531.8 L216.4,535.5 L218.6,536.1 L227.7,535.7 L226.0,538.3 L216.8,538.5 L213.3,537.5 L209.4,533.1 L202.9,536.1 L197.6,536.1 L195.0,534.0 L190.8,533.5 L186.4,536.5 L178.5,538.7 L178.5,543.1 L174.2,548.3 L166.3,552.2 L160.2,551.8 L156.3,548.8 L155.4,544.4 L152.4,543.3 L148.0,543.5 L142.8,547.9 L137.5,550.5 L133.2,554.4 L127.1,557.9 L120.9,558.8 L117.5,562.7 L116.1,566.6 L112.7,568.4 L111.3,571.9 L113.1,574.9 L120.5,577.1 L121.4,579.3 L119.2,581.0 L113.1,583.2 L108.7,587.3 L101.0,583.5 L96.3,584.5 L89.6,580.3 L83.9,582.2 L77.2,577.8 L76.2,573.0 L74.3,567.3 L69.0,564.4 M738.2,511.2 L743.3,511.8 L743.6,515.1 L742.7,519.7 L742.1,526.4 L739.3,524.2 L738.2,520.8 L739.9,516.3 Z M381.3,651.7 L384.1,645.6 L391.8,638.9 L396.6,639.9 L396.0,644.6 L390.8,645.6 L389.9,652.3 Z" fill="none" stroke="#000" stroke-width="1" stroke-linejoin="round"/>
<path d="M205.5,148.2 L209.2,150.0 L215.2,150.7 L221.3,153.0 L226.8,154.3 L232.2,158.2 L240.8,158.2 L246.8,156.0 L251.7,152.5 L250.5,149.4 L257.8,148.0 L265.0,146.4 L266.5,146.4 L266.3,152.5 L263.8,155.5 L260.2,160.4 L259.0,165.2 L255.3,167.0 L254.4,170.7 L256.5,173.0 L263.2,171.7 L263.2,172.6 L257.8,174.3 L254.1,176.2 L252.9,182.2 L252.9,188.3 L254.4,196.8 L257.8,198.0 L258.4,205.3 L262.6,207.2 L262.6,211.4 L260.2,215.0 L261.4,218.7 L266.2,222.4 L270.5,229.1 L270.0,233.3 L265.2,232.9 L262.3,226.2 L254.7,221.5 L246.8,218.0 L244.4,213.8 L243.2,206.5 L240.1,202.9 L245.6,200.2 L249.3,199.3 L249.9,196.2 L246.2,193.2 L242.0,190.8 L239.5,185.9 L241.4,178.6 L240.1,175.6 L236.5,174.3 L233.5,168.9 L230.4,162.2 L225.6,157.3 L216.5,153.7 L209.2,152.5 L206.1,150.7 Z" fill="none" stroke="#000" stroke-width="1"/>
<path d="M176.4,257.4 L185.9,257.4 L185.9,264.4 L181.2,270.2 L184.0,272.6 L191.7,269.6 L195.5,271.1 L189.8,275.9 L182.1,282.6 L176.4,285.4 L171.6,288.3 L167.8,295.0 L162.1,300.7 L160.2,303.6 L152.5,305.1 L155.4,309.3 L165.9,311.8 L166.5,315.0 L161.1,316.0 L160.2,324.6 L160.2,330.3 L157.3,333.8 L160.2,337.0 L160.7,343.7 L159.6,347.1 L155.4,345.6 L151.6,341.8 L150.6,335.7 L155.4,332.2 L155.4,322.7 L148.7,320.8 L144.9,317.0 L144.9,309.3 L143.9,306.4 L139.2,303.6 L142.0,297.9 L148.7,295.0 L148.1,289.3 L154.4,288.3 L160.2,284.5 L161.5,271.1 L168.8,266.3 Z" fill="none" stroke="#000" stroke-width="1"/>
<path d="M393.1,445.5 L394.4,440.7 L399.6,440.5 L405.3,442.9 L408.8,445.9 L412.3,447.5 L418.4,447.5 L419.7,446.4 L422.8,447.3 L425.4,450.3 L422.8,451.6 L418.4,453.4 L414.0,453.4 L413.6,452.5 L408.8,452.5 L404.4,450.3 L398.8,447.7 L396.6,446.4 Z" fill="none" stroke="#000" stroke-width="1"/>
<path d="M530.4,352.0 L536.5,350.3 L542.6,343.4 L550.4,346.0 L545.2,352.0 L541.7,360.8 L537.4,363.4 L532.5,362.5 L533.9,355.5 Z" fill="none" stroke="#000" stroke-width="1"/>
<path d="M585.6,322.2 L590.8,317.9 L601.6,322.2 L614.6,322.6 L619.5,327.8 L619.5,333.0 L613.8,335.6 L611.7,346.9 L613.8,349.5 L617.2,353.8 L615.0,358.7 L608.5,355.5 L602.5,352.0 L606.0,345.0 L603.3,338.2 L596.4,334.7 L590.3,331.2 L587.7,326.0 Z" fill="none" stroke="#000" stroke-width="1"/>
<path d="M639.2,426.0 L643.8,424.8 L644.9,426.5 L644.6,428.7 L640.5,428.7 Z" fill="none" stroke="#000" stroke-width="1"/>
<path d="M608.5,350.3 L611.7,347.5 L614.5,352.0 Z" fill="none" stroke="#000" stroke-width="1"/>
<path d="M119.2,581.3 L124.4,582.4 L129.7,579.3 L131.4,577.8 L134.9,577.8 L138.4,578.7 L142.8,579.6" fill="none" stroke="#000" stroke-width="1.4"/>
<use href="#mk" x="517" y="105"/>
<use href="#mk" x="574" y="126"/>
<use href="#mk" x="533" y="261"/>
<use href="#mk" x="523" y="268"/>
<use href="#mk" x="503" y="279"/>
<use href="#mk" x="452" y="316"/>
<use href="#mk" x="552" y="337"/>
<use href="#mk" x="474" y="447"/>
<use href="#mk" x="474" y="466"/>
<use href="#mk" x="508" y="466"/>
<use href="#mk" x="410" y="477"/>
<use href="#mk" x="589" y="428"/>
<use href="#mk" x="611" y="429"/>
<use href="#mk" x="611" y="442"/>
<use href="#mk" x="639" y="423"/>
<use href="#mk" x="630" y="461"/>
<use href="#mk" x="652" y="402"/>
<use href="#mk" x="709" y="389"/>
<use href="#mk" x="682" y="416"/>
<use href="#mk" x="739" y="424"/>
<use href="#mk" x="735" y="427"/>
<use href="#mk" x="678" y="496"/>
<use href="#mk" x="728" y="492"/>
<use href="#mk" x="260" y="201"/>
<rect x="123" y="714" width="750" height="6" fill="#dcdcdc"/><rect x="865" y="689" width="8" height="31" fill="#dcdcdc"/>
<rect x="115.50" y="683.5" width="62.92" height="30" fill="#10008c"/>
<rect x="177.92" y="683.5" width="62.92" height="30" fill="#0000dc"/>
<rect x="240.33" y="683.5" width="62.92" height="30" fill="#0028ff"/>
<rect x="302.75" y="683.5" width="62.92" height="30" fill="#0080ff"/>
<rect x="365.17" y="683.5" width="62.92" height="30" fill="#00a89c"/>
<rect x="427.58" y="683.5" width="62.92" height="30" fill="#00c020"/>
<rect x="490.00" y="683.5" width="62.92" height="30" fill="#14ff00"/>
<rect x="552.42" y="683.5" width="62.92" height="30" fill="#a0ff00"/>
<rect x="614.83" y="683.5" width="62.92" height="30" fill="#ffd800"/>
<rect x="677.25" y="683.5" width="62.92" height="30" fill="#ff9000"/>
<rect x="739.67" y="683.5" width="62.92" height="30" fill="#ff4800"/>
<rect x="802.08" y="683.5" width="62.42" height="30" fill="#ff0000"/>
<rect x="115.5" y="683.5" width="749" height="30" fill="none" stroke="#000" stroke-width="1"/>
<path d="M115.5,683.5 V717.5" stroke="#000" stroke-width="1" fill="none"/>
<path d="M365.5,683.5 V717.5" stroke="#000" stroke-width="1" fill="none"/>
<path d="M614.5,683.5 V717.5" stroke="#000" stroke-width="1" fill="none"/>
<path d="M864.5,683.5 V717.5" stroke="#000" stroke-width="1" fill="none"/>
</g>
<text x="313.0" y="69.5" font-size="16.0" textLength="148.5" lengthAdjust="spacingAndGlyphs" text-anchor="start" fill="#1c1c1c">VictoriaWeather.ca</text>
<text x="473.0" y="69.5" font-size="16.0" textLength="23.5" lengthAdjust="spacingAndGlyphs" text-anchor="start" fill="#1c1c1c">--</text>
<text x="508.0" y="69.5" font-size="16.0" textLength="21.0" lengthAdjust="spacingAndGlyphs" text-anchor="start" fill="#1c1c1c">UV</text>
<text x="538.0" y="69.5" font-size="16.0" textLength="40.6" lengthAdjust="spacingAndGlyphs" text-anchor="start" fill="#1c1c1c">Index</text>
<text x="113.0" y="727.0" font-size="10.5" textLength="5.5" lengthAdjust="spacingAndGlyphs" text-anchor="start" fill="#1c1c1c">0</text>
<text x="362.5" y="727.0" font-size="10.5" textLength="5.5" lengthAdjust="spacingAndGlyphs" text-anchor="start" fill="#1c1c1c">4</text>
<text x="611.5" y="727.0" font-size="10.5" textLength="5.5" lengthAdjust="spacingAndGlyphs" text-anchor="start" fill="#1c1c1c">8</text>
<text x="859.0" y="727.0" font-size="10.5" textLength="11.0" lengthAdjust="spacingAndGlyphs" text-anchor="start" fill="#1c1c1c">12</text>
<text x="418.7" y="738.5" font-size="10.5" textLength="26.0" lengthAdjust="spacingAndGlyphs" text-anchor="start" fill="#1c1c1c">index</text>
<text x="456.7" y="738.5" font-size="10.5" textLength="68.0" lengthAdjust="spacingAndGlyphs" text-anchor="start" fill="#1c1c1c">2026/04/19</text>
<text x="531.7" y="738.5" font-size="10.5" textLength="28.7" lengthAdjust="spacingAndGlyphs" text-anchor="start" fill="#1c1c1c">11:29</text>
</svg></body></html>
